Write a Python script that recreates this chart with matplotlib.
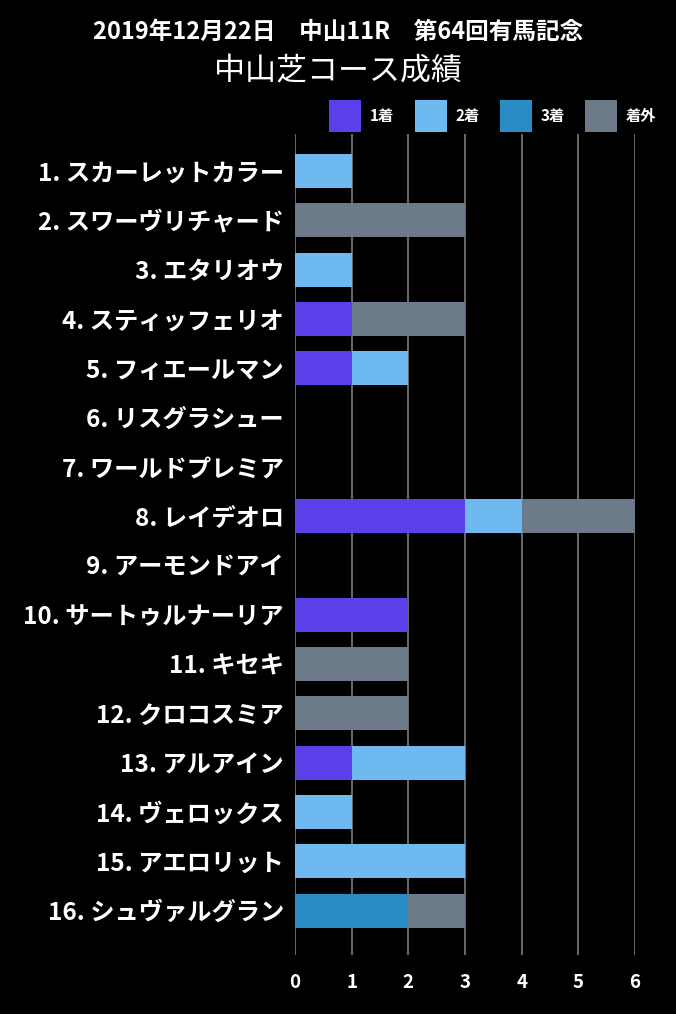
import matplotlib.pyplot as plt
import numpy as np

plt.rcParams['font.family'] = ['Noto Sans CJK JP', 'DejaVu Sans']

horses = ['1. スカーレットカラー', '2. スワーヴリチャード', '3. エタリオウ', '4. スティッフェリオ',
          '5. フィエールマン', '6. リスグラシュー', '7. ワールドプレミア', '8. レイデオロ',
          '9. アーモンドアイ', '10. サートゥルナーリア', '11. キセキ', '12. クロコスミア',
          '13. アルアイン', '14. ヴェロックス', '15. アエロリット', '16. シュヴァルグラン']
first = [0, 0, 0, 1, 1, 0, 0, 3, 0, 2, 0, 0, 1, 0, 0, 0]
second = [1, 0, 1, 0, 1, 0, 0, 1, 0, 0, 0, 0, 2, 1, 3, 0]
third = [0, 0, 0, 0, 0, 0, 0, 0, 0, 0, 0, 0, 0, 0, 0, 2]
other = [0, 3, 0, 2, 0, 0, 0, 2, 0, 0, 2, 2, 0, 0, 0, 1]
series = [('1着', first, '#5940e9'), ('2着', second, '#6eb9f0'),
          ('3着', third, '#298cc4'), ('着外', other, '#6c7a89')]

fig = plt.figure(figsize=(6.76, 10.14), dpi=100, facecolor='black')
ax = fig.add_axes([295/676, 1-955/1014, 340/676, (955-134)/1014], facecolor='black')

y = np.arange(len(horses))
left = np.zeros(len(horses))
for name, vals, col in series:
    ax.barh(y, vals, left=left, height=0.69, color=col, label=name, zorder=3)
    left += np.array(vals)

ax.set_xlim(0, 6)
ax.set_ylim(15.9, -0.75)
ax.set_yticks(y)
ax.set_yticklabels(horses, color='white', fontsize=17.5, fontweight='bold')
ax.set_xticks(range(7))
ax.set_xticklabels([str(i) for i in range(7)], color='white', fontsize=13.5, fontweight='bold')
ax.tick_params(axis='y', length=0, pad=8)
ax.tick_params(axis='x', length=0, pad=13)
ax.grid(axis='x', color='#666666', linewidth=1.5, zorder=0)
for s in ax.spines.values():
    s.set_visible(False)

fig.text(0.5, 1-32/1014, '2019年12月22日　中山11R　第64回有馬記念', color='white',
         fontsize=17, fontweight='bold', ha='center', va='center')
fig.text(0.5, 1-72/1014, '中山芝コース成績', color='white',
         fontsize=22.3, ha='center', va='center')

leg = fig.legend(loc='center right', bbox_to_anchor=(664/676, 1-116/1014), ncol=4, frameon=False,
                 fontsize=11, handlelength=2.1, handleheight=2.0, handletextpad=0.55,
                 columnspacing=1.35, borderpad=0)
for p in leg.get_patches():
    p.set_height(p.get_height() * 1.35)
    p.set_y(p.get_y() - p.get_height() * 0.13)
for t in leg.get_texts():
    t.set_color('white')
    t.set_fontweight('bold')

plt.savefig('out.png', dpi=100, facecolor='black')
